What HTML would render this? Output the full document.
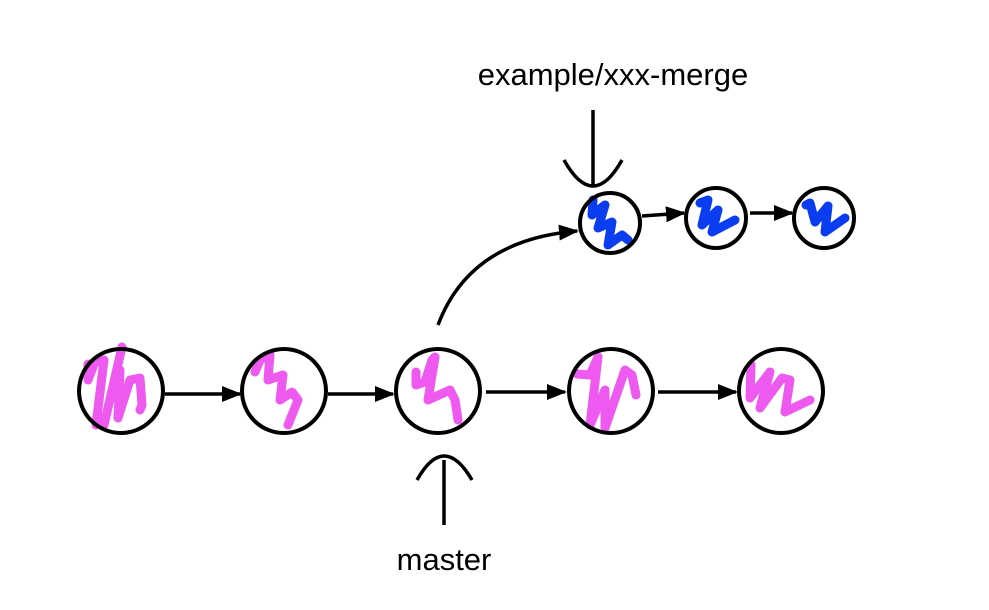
<!DOCTYPE html>
<html><head><meta charset="utf-8"><style>html,body{margin:0;padding:0;background:#fff}svg{display:block}</style></head>
<body>
<svg width="989" height="610" viewBox="0 0 989 610" xmlns="http://www.w3.org/2000/svg">
<defs>
<marker id="ah" markerWidth="10" markerHeight="8" refX="9" refY="4" orient="auto" markerUnits="userSpaceOnUse" viewBox="0 0 10 8">
<path d="M0,0 L10,4 L0,8 Z" fill="#000"/>
</marker>
<marker id="ah2" markerWidth="20" markerHeight="16" refX="18" refY="8" orient="auto" markerUnits="userSpaceOnUse" viewBox="0 0 20 16">
<path d="M0,0 L20,8 L0,16 Z" fill="#000"/>
</marker>
</defs>
<g fill="none" stroke-linecap="round" stroke-linejoin="round" stroke-width="9">
<!-- pink scribbles -->
<path stroke="#ee5af0" d="M88,364 L88,380 L95,362 L104,360 L96,425 M122,347 L104,425 M120,370 L118,418 L130,380 L140,378 L142,405 L140,410" />
<path stroke="#ee5af0" d="M255,372 L260,360 L270,355 L268,380 L283,375 L280,400 L292,392 L298,400 L288,425" />
<path stroke="#ee5af0" d="M416,372 L416,385 L425,382 L432,360 L435,357 L428,400 L450,390 L455,400 L458,420" />
<path stroke="#ee5af0" d="M577,374 L590,375 L598,357 L590,425 L605,390 L605,428 L625,370 L632,375 L636,395" />
<path stroke="#ee5af0" d="M751,365 L750,398 L770,372 L760,408 L782,378 L790,380 L785,412 L810,400" />
<!-- blue scribbles -->
<path stroke="#0a3cf0" d="M593,200 L592,215 L605,205 L598,228 L612,222 L608,245 L622,235 L628,240" />
<path stroke="#0a3cf0" d="M700,203 L708,200 L702,225 L718,210 L712,232 L735,220" />
<path stroke="#0a3cf0" d="M806,205 L810,203 L815,222 L828,206 L825,232 L845,218" />
</g>
<g fill="none" stroke="#000" stroke-width="4">
<circle cx="121" cy="391" r="42"/>
<circle cx="284" cy="391" r="42"/>
<circle cx="438" cy="391" r="42"/>
<circle cx="611" cy="391" r="42"/>
<circle cx="781" cy="391" r="42"/>
<circle cx="610" cy="223" r="30"/>
<circle cx="716" cy="218" r="30"/>
<circle cx="824" cy="218" r="30"/>
</g>
<g stroke="#000" stroke-width="3.5" fill="none">
<line x1="165" y1="394" x2="240" y2="394" marker-end="url(#ah2)"/>
<line x1="328" y1="394" x2="393" y2="394" marker-end="url(#ah2)"/>
<line x1="486" y1="392" x2="565" y2="392" marker-end="url(#ah2)"/>
<line x1="658" y1="392" x2="736" y2="392" marker-end="url(#ah2)"/>
<line x1="642" y1="216" x2="684" y2="213" marker-end="url(#ah2)"/>
<line x1="750" y1="213" x2="792" y2="213" marker-end="url(#ah2)"/>
<path d="M438,325 Q470,240 577,231" marker-end="url(#ah2)"/>
<line x1="593" y1="110" x2="593" y2="187"/>
<path d="M564,160 Q593,212 622,160"/>
<line x1="444" y1="460" x2="444" y2="525"/>
<path d="M417,480 Q444,432 472,480"/>
</g>
<g font-family="Liberation Sans, Arial, sans-serif" font-size="31" fill="#000">
<text x="613" y="85" text-anchor="middle">example/xxx-merge</text>
<text x="444" y="570" text-anchor="middle">master</text>
</g>
</svg>
</body></html>
